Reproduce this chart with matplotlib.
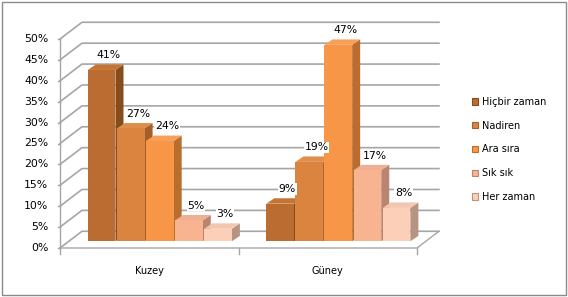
import matplotlib.pyplot as plt
from matplotlib.patches import Polygon, Rectangle, Patch

categories = ['Kuzey', 'Güney']
series = ['Hiçbir zaman', 'Nadiren', 'Ara sıra', 'Sık sık', 'Her zaman']
kuzey = [41, 27, 24, 5, 3]
guney = [9, 19, 47, 17, 8]
values = [kuzey, guney]
yticks = [0, 5, 10, 15, 20, 25, 30, 35, 40, 45, 50]

# front, side, top colours for each series
front = ['#BB6C30', '#DA8440', '#F79646', '#F8B491', '#FBCFB8']
side = ['#874C1C', '#A4602A', '#B96E30', '#B98570', '#B69482']
top = ['#C47434', '#E08E4C', '#F9A058', '#EDB093', '#F2C6AF']

fig = plt.figure(figsize=(5.68, 2.97), dpi=100)
fig.patches.append(Rectangle((0.004, 0.006), 0.992, 0.988, transform=fig.transFigure,
                             fill=False, ec='#8A8A8A', lw=1))
ax = fig.add_axes([60 / 568, 49 / 297, 357 / 568, 209 / 297])
ax.set_xlim(-0.5, 1.5)
ax.set_ylim(0, 50)
ax.axis('off')

DX, DY = 0.123, 4.0      # full depth of the box
grid = '#A6A6A6'

# walls
for v in yticks:
    ax.plot([-0.5, -0.5 + DX, 1.5 + DX], [v, v + DY, v + DY], color=grid, lw=1.2,
            clip_on=False, zorder=1)
    ax.plot([-0.5 - 0.01, -0.5], [v, v], color=grid, lw=1, clip_on=False)
    ax.text(-0.5 - 0.065, v, '{}%'.format(v), ha='right', va='center', fontsize=7.8)
ax.plot([-0.5, -0.5], [0, 50], color=grid, lw=1, clip_on=False)
ax.plot([-0.5, 1.5, 1.5 + DX], [0, 0, DY], color=grid, lw=1, clip_on=False)
for xt in [-0.5, 0.5, 1.5]:
    ax.plot([xt, xt], [0, -1.4], color=grid, lw=1, clip_on=False)

# bars
slot = 0.163
bw = 0.155
fx, fy = 0.4 * DX + 0.014, 0.4 * DY
bdx, bdy = 0.045, 1.3
for c, vals in enumerate(values):
    for i, v in enumerate(vals):
        x0 = c - 2.5 * slot + i * slot + fx
        x1 = x0 + bw
        y0 = fy
        y1 = fy + v
        ax.add_patch(Polygon([(x1, y0), (x1 + bdx, y0 + bdy), (x1 + bdx, y1 + bdy), (x1, y1)],
                             closed=True, fc=side[i], ec='none', clip_on=False, zorder=3))
        ax.add_patch(Polygon([(x0, y1), (x1, y1), (x1 + bdx, y1 + bdy), (x0 + bdx, y1 + bdy)],
                             closed=True, fc=top[i], ec='none', clip_on=False, zorder=3))
        ax.add_patch(Rectangle((x0, y0), bw, v, fc=front[i], ec='none', clip_on=False, zorder=3))
        ax.text((x0 + x1) / 2 + 0.04, y1 + bdy + 1.0, '{}%'.format(v), ha='center', va='bottom',
                fontsize=7.8, zorder=4,
                bbox=dict(fc='white', ec='none', pad=0.5))
    ax.text(c, -5.5, categories[c], ha='center', va='center', fontsize=7)

handles = [Patch(fc=front[i], ec=side[i], lw=0.8) for i in range(len(series))]
fig.legend(handles, series, loc='upper left', bbox_to_anchor=(467 / 568, 1 - 92 / 297),
           frameon=False, fontsize=7, handlelength=0.65, handleheight=0.65,
           handletextpad=0.4, labelspacing=1.42, borderpad=0)

fig.savefig('out.png', dpi=100)
